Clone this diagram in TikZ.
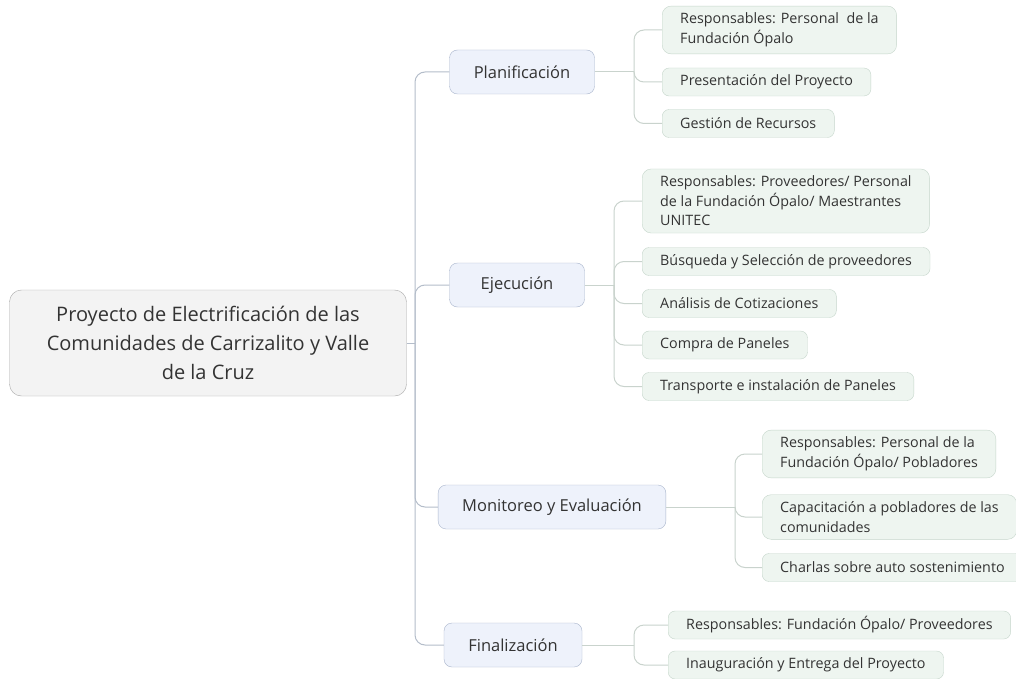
\documentclass[tikz,border=0pt]{standalone}
\usepackage{fontspec}
\setmainfont{Open Sans}
\definecolor{rootfill}{HTML}{F3F3F3}
\definecolor{rootline}{HTML}{A8A8A8}
\definecolor{topicfill}{HTML}{EEF2FB}
\definecolor{topicline}{HTML}{A9B5CC}
\definecolor{itemfill}{HTML}{EEF5F0}
\definecolor{itemline}{HTML}{C5D6CB}
\definecolor{linkcol}{HTML}{B4BDCA}
\definecolor{twigcol}{HTML}{C9D3CD}
\definecolor{txt}{HTML}{333333}
\tikzset{
  root/.style={draw=rootline, fill=rootfill, rounded corners=12pt, align=center,
    text=txt, font=\fontsize{20}{29}\selectfont, minimum width=397pt, minimum height=106pt},
  topic/.style={draw=topicline, fill=topicfill, rounded corners=8pt, text=txt,
    font=\fontsize{16.5}{20}\selectfont, minimum height=44pt, inner xsep=24pt},
  item/.style={draw=itemline, fill=itemfill, rounded corners=7pt, text=txt, anchor=west,
    align=left, font=\fontsize{14.3}{19.5}\selectfont, minimum height=28pt, inner xsep=18pt, inner ysep=4pt},
  tall/.style={inner ysep=7pt, rounded corners=9pt},
  link/.style={draw=linkcol, line width=1pt, rounded corners=10pt},
  twig/.style={draw=twigcol, line width=1pt, rounded corners=10pt}
}
\begin{document}
\begin{tikzpicture}[x=1pt,y=-1pt]
\useasboundingbox (0,0) rectangle (1016,679);
\fill[white] (0,0) rectangle (1016,679);

% central topic
\node[root] (root) at (208,343) {Proyecto de Electrificación de las\\Comunidades de Carrizalito y Valle\\de la Cruz};

% main branches
\node[topic, minimum width=145pt] (plan) at (522,72) {Planificación};
\node[topic, minimum width=135pt] (ejec) at (517,285) {Ejecución};
\node[topic, minimum width=218pt] (moni) at (552,507) {Monitoreo y Evaluación};
\node[topic, minimum width=138pt] (fina) at (513,645) {Finalización};

\coordinate (trunk) at (415,343);
\draw[link] (root.east) -- (trunk);
\foreach \t in {plan,ejec,moni,fina}
  \draw[link] (trunk) |- (\t.west);

% Planificacion
\node[item, tall] (p1) at (662,30) {Responsables: Personal~ de la\\Fundación Ópalo};
\node[item] (p2) at (662,82) {Presentación del Proyecto};
\node[item] (p3) at (662,123.5) {Gestión de Recursos};
\coordinate (pj) at (634,72);
\draw[twig] (plan.east) -- (pj);
\foreach \c in {p1,p2,p3}
  \draw[twig] (pj) |- (\c.west);

% Ejecucion
\node[item, tall] (e1) at (642,201) {Responsables: Proveedores/ Personal\\de la Fundación Ópalo/ Maestrantes\\UNITEC};
\node[item] (e2) at (642,261.5) {Búsqueda y Selección de proveedores};
\node[item] (e3) at (642,303.5) {Análisis de Cotizaciones};
\node[item] (e4) at (642,345) {Compra de Paneles};
\node[item] (e5) at (642,386.5) {Transporte e instalación de Paneles};
\coordinate (ej) at (614,285);
\draw[twig] (ejec.east) -- (ej);
\foreach \c in {e1,e2,e3,e4,e5}
  \draw[twig] (ej) |- (\c.west);

% Monitoreo
\node[item, tall] (m1) at (762,454) {Responsables: Personal de la\\Fundación Ópalo/ Pobladores};
\node[item, tall] (m2) at (762,517) {Capacitación a pobladores de las\\comunidades};
\node[item] (m3) at (762,567.5) {Charlas sobre auto sostenimiento};
\coordinate (mj) at (735,507);
\draw[twig] (moni.east) -- (mj);
\foreach \c in {m1,m2,m3}
  \draw[twig] (mj) |- (\c.west);

% Finalizacion
\node[item] (f1) at (668,625) {Responsables: Fundación Ópalo/ Proveedores};
\node[item] (f2) at (668,665) {Inauguración y Entrega del Proyecto};
\coordinate (fj) at (634,645);
\draw[twig] (fina.east) -- (fj);
\foreach \c in {f1,f2}
  \draw[twig] (fj) |- (\c.west);
\end{tikzpicture}
\end{document}
